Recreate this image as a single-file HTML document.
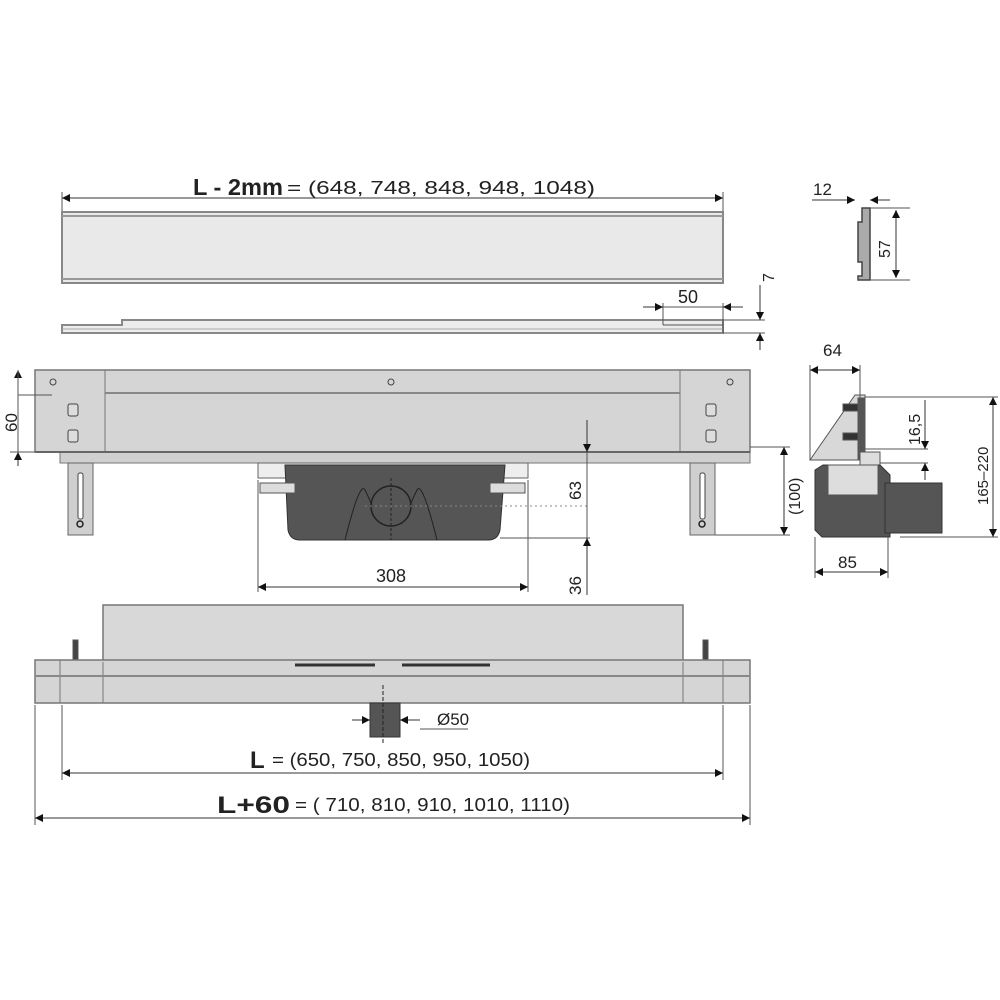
<!DOCTYPE html>
<html><head><meta charset="utf-8"><style>
html,body{margin:0;padding:0;background:#fff;}
svg{display:block}
text{font-family:"Liberation Sans",sans-serif;fill:#222}
</style></head><body>
<svg width="1000" height="1000" viewBox="0 0 1000 1000">
<defs>
<marker id="a" viewBox="0 0 10 10" refX="10" refY="5" markerWidth="10" markerHeight="8" orient="auto-start-reverse" markerUnits="userSpaceOnUse"><path d="M0,0 L10,5 L0,10 z" fill="#111"/></marker>
</defs>
<g stroke="#555" stroke-width="1" fill="none">
<line x1="62" y1="198" x2="723" y2="198" stroke="#333" marker-start="url(#a)" marker-end="url(#a)"/>
<line x1="62" y1="192" x2="62" y2="212"/><line x1="723" y1="192" x2="723" y2="212"/>
<rect x="62" y="212" width="661" height="71" fill="#e9e9e9" stroke="#888" stroke-width="2"/>
<line x1="62" y1="216" x2="723" y2="216" stroke="#999" stroke-width="2"/>
<line x1="62" y1="279" x2="723" y2="279" stroke="#999" stroke-width="2"/>
<path d="M62,325 H122 V320 H723 V333 H62 Z" fill="#ececec" stroke="#888" stroke-width="2"/>
<line x1="62" y1="329" x2="723" y2="329" stroke="#aaa"/>
<line x1="663" y1="303" x2="663" y2="325"/>
<line x1="663" y1="325" x2="723" y2="325"/>
<line x1="723" y1="303" x2="723" y2="333"/>
<line x1="643" y1="307" x2="663" y2="307" stroke="#333" marker-end="url(#a)"/>
<line x1="743" y1="307" x2="723" y2="307" stroke="#333" marker-end="url(#a)"/>
<line x1="663" y1="307" x2="723" y2="307"/>
<line x1="723" y1="320" x2="765" y2="320"/><line x1="723" y1="333" x2="765" y2="333"/>
<line x1="760" y1="285" x2="760" y2="320" stroke="#333" marker-end="url(#a)"/>
<line x1="760" y1="350" x2="760" y2="333" stroke="#333" marker-end="url(#a)"/>
<path d="M862,208 H870 V280 H858 V276 H862 V262 H858 V222 H862 Z" fill="#aaa" stroke="#444" stroke-width="1.5"/>
<line x1="812" y1="200" x2="855" y2="200" stroke="#333" marker-end="url(#a)"/>
<line x1="890" y1="200" x2="870" y2="200" stroke="#333" marker-end="url(#a)"/>
<line x1="870" y1="208" x2="910" y2="208"/><line x1="870" y1="280" x2="910" y2="280"/>
<line x1="896" y1="210" x2="896" y2="278" stroke="#333" marker-start="url(#a)" marker-end="url(#a)"/>
<rect x="35" y="370" width="715" height="82" fill="#d5d5d5" stroke="#777" stroke-width="1.5"/>
<line x1="105" y1="370" x2="105" y2="463" stroke="#777"/>
<line x1="680" y1="370" x2="680" y2="463" stroke="#777"/>
<line x1="105" y1="393" x2="680" y2="393" stroke="#888" stroke-width="2"/>
<rect x="60" y="452" width="690" height="11" fill="#d0d0d0" stroke="#777"/>
<line x1="35" y1="452" x2="750" y2="452" stroke="#666" stroke-width="2"/>
<circle cx="53" cy="382" r="3" stroke="#444"/><circle cx="391" cy="382" r="3" stroke="#444"/><circle cx="730" cy="382" r="3" stroke="#444"/>
<rect x="68" y="404" width="10" height="12" rx="2" fill="#ddd" stroke="#444"/><rect x="68" y="430" width="10" height="12" rx="2" fill="#ddd" stroke="#444"/>
<rect x="706" y="404" width="10" height="12" rx="2" fill="#ddd" stroke="#444"/><rect x="706" y="430" width="10" height="12" rx="2" fill="#ddd" stroke="#444"/>
<rect x="68" y="463" width="25" height="72" fill="#cfcfcf" stroke="#666"/>
<rect x="78" y="473" width="5" height="46" rx="2" fill="#fff" stroke="#444"/><circle cx="80" cy="524" r="3" stroke="#222" stroke-width="1.5"/>
<rect x="690" y="463" width="25" height="72" fill="#cfcfcf" stroke="#666"/>
<rect x="700" y="473" width="5" height="46" rx="2" fill="#fff" stroke="#444"/><circle cx="702" cy="524" r="3" stroke="#222" stroke-width="1.5"/>
<rect x="258" y="463" width="270" height="15" fill="#eee" stroke="#666"/>
<path d="M285,465 H505 L500,530 Q498,540 488,540 H300 Q290,540 288,530 Z" fill="#555" stroke="#333"/>
<rect x="260" y="483" width="35" height="10" fill="#ddd" stroke="#555"/><rect x="490" y="483" width="35" height="10" fill="#ddd" stroke="#555"/>
<circle cx="391" cy="506" r="20" stroke="#222" stroke-width="1.5"/>
<path d="M345,540 Q360,480 365,490 Q370,500 372,506" stroke="#222"/>
<path d="M437,540 Q422,480 417,490 Q412,500 410,506" stroke="#222"/>
<line x1="391" y1="478" x2="391" y2="540" stroke="#222" stroke-dasharray="3,2"/>
<line x1="365" y1="506" x2="590" y2="506" stroke="#888" stroke-dasharray="2,3"/>
<line x1="258" y1="480" x2="258" y2="592"/><line x1="528" y1="480" x2="528" y2="592"/>
<line x1="258" y1="587" x2="528" y2="587" stroke="#333" marker-start="url(#a)" marker-end="url(#a)"/>
<line x1="500" y1="538" x2="590" y2="538"/>
<line x1="587" y1="420" x2="587" y2="452" stroke="#333" marker-end="url(#a)"/>
<line x1="587" y1="452" x2="587" y2="538"/>
<line x1="587" y1="595" x2="587" y2="538" stroke="#333" marker-end="url(#a)"/>
<line x1="18" y1="385" x2="18" y2="370" stroke="#333" marker-end="url(#a)"/>
<line x1="18" y1="466" x2="18" y2="452" stroke="#333" marker-end="url(#a)"/>
<line x1="18" y1="370" x2="18" y2="452"/>
<line x1="18" y1="395" x2="52" y2="395"/><line x1="10" y1="452" x2="35" y2="452"/>
<line x1="750" y1="447" x2="790" y2="447"/><line x1="715" y1="535" x2="790" y2="535"/>
<line x1="784" y1="447" x2="784" y2="535" stroke="#333" marker-start="url(#a)" marker-end="url(#a)"/>
<path d="M810,460 L855,395 H865 V460 Z" fill="#d8d8d8" stroke="#555"/>
<rect x="843" y="404" width="17" height="7" fill="#333"/><rect x="843" y="433" width="17" height="7" fill="#333"/>
<rect x="858" y="398" width="6" height="62" fill="#555"/>
<rect x="860" y="452" width="20" height="15" fill="#ddd" stroke="#555"/>
<path d="M815,470 L823,465 H880 L890,475 V537 H822 L815,530 Z" fill="#555" stroke="#333"/>
<rect x="828" y="465" width="50" height="30" fill="#ddd" stroke="#555"/>
<rect x="885" y="483" width="57" height="50" fill="#555" stroke="#333"/>
<line x1="810" y1="365" x2="810" y2="460"/><line x1="860" y1="365" x2="860" y2="398"/>
<line x1="810" y1="370" x2="860" y2="370" stroke="#333" marker-start="url(#a)" marker-end="url(#a)"/>
<line x1="815" y1="537" x2="815" y2="578"/><line x1="888" y1="537" x2="888" y2="578"/>
<line x1="815" y1="572" x2="888" y2="572" stroke="#333" marker-start="url(#a)" marker-end="url(#a)"/>
<line x1="865" y1="397" x2="998" y2="397"/><line x1="900" y1="537" x2="998" y2="537"/>
<line x1="993" y1="397" x2="993" y2="537" stroke="#333" marker-start="url(#a)" marker-end="url(#a)"/>
<line x1="865" y1="449" x2="928" y2="449"/><line x1="880" y1="463" x2="928" y2="463"/>
<line x1="925" y1="400" x2="925" y2="449" stroke="#333" marker-end="url(#a)"/>
<line x1="925" y1="480" x2="925" y2="463" stroke="#333" marker-end="url(#a)"/>
<rect x="103" y="605" width="580" height="57" fill="#d8d8d8" stroke="#777" stroke-width="1.5"/>
<rect x="73" y="640" width="5" height="22" fill="#444"/><rect x="703" y="640" width="5" height="22" fill="#444"/>
<rect x="35" y="660" width="715" height="43" fill="#d5d5d5" stroke="#777" stroke-width="1.5"/>
<line x1="60" y1="660" x2="60" y2="703" stroke="#777"/><line x1="723" y1="660" x2="723" y2="703" stroke="#777"/>
<line x1="103" y1="662" x2="103" y2="703" stroke="#777"/><line x1="683" y1="662" x2="683" y2="703" stroke="#777"/>
<line x1="35" y1="676" x2="750" y2="676" stroke="#888" stroke-width="2"/>
<line x1="295" y1="665" x2="375" y2="665" stroke="#333" stroke-width="3"/><line x1="402" y1="665" x2="490" y2="665" stroke="#333" stroke-width="3"/>
<rect x="370" y="703" width="30" height="34" fill="#555" stroke="#333"/>
<line x1="383" y1="685" x2="383" y2="745" stroke="#222" stroke-dasharray="4,2"/>
<line x1="352" y1="720" x2="370" y2="720" stroke="#333" marker-end="url(#a)"/>
<line x1="420" y1="720" x2="400" y2="720" stroke="#333" marker-end="url(#a)"/>
<line x1="420" y1="729" x2="468" y2="729"/>
<line x1="62" y1="705" x2="62" y2="780"/><line x1="723" y1="705" x2="723" y2="780"/>
<line x1="62" y1="773" x2="723" y2="773" stroke="#333" marker-start="url(#a)" marker-end="url(#a)"/>
<line x1="35" y1="705" x2="35" y2="825"/><line x1="750" y1="705" x2="750" y2="825"/>
<line x1="35" y1="818" x2="750" y2="818" stroke="#333" marker-start="url(#a)" marker-end="url(#a)"/>
</g>
<text x="193" y="195" font-size="23" font-weight="bold" textLength="90" lengthAdjust="spacingAndGlyphs">L - 2mm</text>
<text x="287" y="194" font-size="18" textLength="308" lengthAdjust="spacingAndGlyphs">= (648, 748, 848, 948, 1048)</text>
<text x="678" y="303" font-size="18">50</text>
<text transform="translate(774,282) rotate(-90)" font-size="16">7</text>
<text x="813" y="195" font-size="17">12</text>
<text transform="translate(890,258) rotate(-90)" font-size="16">57</text>
<text transform="translate(17,432) rotate(-90)" font-size="17">60</text>
<text transform="translate(581,500) rotate(-90)" font-size="17">63</text>
<text transform="translate(581,595) rotate(-90)" font-size="17">36</text>
<text x="376" y="582" font-size="18">308</text>
<text transform="translate(800,515) rotate(-90)" font-size="16">(100)</text>
<text x="823" y="356" font-size="17">64</text>
<text x="838" y="568" font-size="17">85</text>
<text transform="translate(920,445) rotate(-90)" font-size="16">16,5</text>
<text transform="translate(988,505) rotate(-90)" font-size="15">165–220</text>
<text x="437" y="725" font-size="17">Ø50</text>
<text x="250" y="768" font-size="24" font-weight="bold">L</text>
<text x="272" y="766" font-size="18" textLength="258" lengthAdjust="spacingAndGlyphs">= (650, 750, 850, 950, 1050)</text>
<text x="217" y="813" font-size="24" font-weight="bold" textLength="73" lengthAdjust="spacingAndGlyphs">L+60</text>
<text x="295" y="811" font-size="18" textLength="275" lengthAdjust="spacingAndGlyphs">= ( 710, 810, 910, 1010, 1110)</text>
</svg>
</body></html>
